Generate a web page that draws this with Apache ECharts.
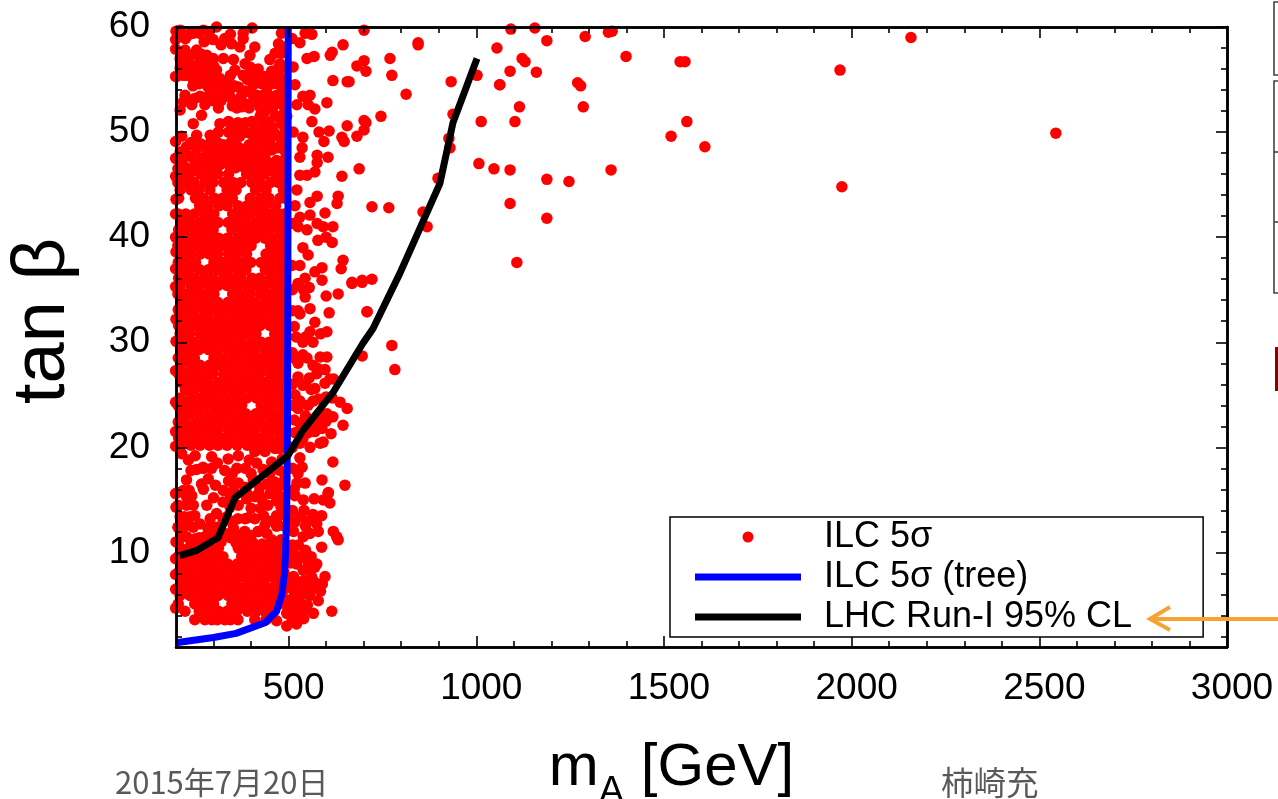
<!DOCTYPE html>
<html>
<head>
<meta charset="utf-8">
<title>tan beta vs mA</title>
<script src="https://cdn.jsdelivr.net/npm/echarts@6/dist/echarts.min.js"></script>
<style>
html, body { margin: 0; padding: 0; background: #fff; }
#chart { width: 1278px; height: 799px; }
</style>
</head>
<body>
<div id="chart"></div>
<script>
// tick values
const xMajorTicks = [500, 1000, 1500, 2000, 2500, 3000];
const xMinorTicks = [300, 400, 600, 700, 800, 900, 1100, 1200, 1300, 1400, 1600, 1700, 1800, 1900, 2100, 2200, 2300, 2400, 2600, 2700, 2800, 2900];
const yMajorTicks = [10, 20, 30, 40, 50, 60];
const yMinorTicks = [2, 4, 6, 8, 12, 14, 16, 18, 22, 24, 26, 28, 32, 34, 36, 38, 42, 44, 46, 48, 52, 54, 56, 58];

// ILC 5 sigma (tree) curve [mA, tanb]
const ilcTree = [[200, 1.4], [300, 1.9], [360, 2.3], [437, 3.3], [468, 4.4], [482, 6], [489, 8], [492, 10], [495, 14], [497, 22], [498, 35], [499, 60]];
// LHC Run-I curve [mA, tanb]
const lhcRun1 = [[210, 9.7], [256, 10.2], [312, 11.4], [357, 15.2], [498, 19.2], [538, 21.6], [618, 25.2], [698, 29.9], [725, 31.3], [797, 36.6], [903, 45.1], [938, 50.9], [1002, 57]];

// isolated points, far right of the cloud
const redFar = [[2544, 49.9], [2158, 59], [1969, 55.9], [1974, 44.8], [1519, 49.6], [1543, 56.7], [1556, 56.7], [1561, 51], [1609, 48.6], [1399, 57.2], [1362, 59.6], [1352, 59.5],
  [1290, 59.1], [1188, 58.7], [1156, 59.9], [1092, 59.8], [1055, 58], [1122, 57], [1130, 56.7], [1090, 55.8], [1062, 54.5], [1160, 55.7], [1270, 54.7], [1278, 54.4], [1285, 52.4],
  [1115, 52.4], [1103, 51], [1013, 51], [1007, 47], [1047, 46.5], [1090, 46.4], [1090, 43.2], [1188, 45.5], [1188, 41.8], [1247, 45.3], [1359, 46.4], [1108, 37.6],
  [775, 29.7], [783, 27.4], [722, 42.9], [767, 42.8], [813, 53.6], [845, 58.5], [770, 57], [775, 55.4], [746, 51.5], [701, 59.7], [696, 28.7],
  [858, 42.4], [869, 41], [898, 45.6], [927, 49.4], [930, 48.5], [933, 54.8], [938, 51.7], [1002, 55.4], [1063, 54.5], [709, 32.9], [688, 46.5], [701, 51.1], [706, 50.9], [701, 50.2],
  [701, 56.8], [706, 55.8], [682, 56.3], [845, 58.3], [722, 36], [696, 35.7], [669, 35.6]];

// scattered points right of the blue line
const redRight = [[509, 58.9], [512, 56.2], [530, 58.5], [544, 59.4], [562, 59.3], [549, 57], [568, 57.2], [616, 57.6], [611, 57.3], [645, 58.3], [656, 54.8], [618, 54.9], [661, 54.8],
  [517, 54.5], [538, 53.4], [557, 53.5], [522, 52.6], [552, 52.6], [570, 52.2], [602, 52.8], [512, 50], [608, 50.1], [581, 50], [594, 49.1], [562, 51], [656, 50.6], [682, 49.6], [642, 49.5], [648, 49.1],
  [538, 49.5], [536, 48.5], [530, 47.6], [576, 47.8], [576, 47.1], [605, 47.6], [570, 46.2], [549, 45.9], [530, 45.9], [642, 45.8], [522, 44.5], [517, 43], [632, 43.9], [629, 43.2], [576, 43.9], [557, 43.3], [597, 42.3],
  [530, 41.9], [557, 42.1], [576, 41.3], [592, 41], [525, 41], [549, 40.7], [512, 41.3], [578, 39.7], [600, 40], [538, 39], [552, 38.3], [618, 41], [616, 39.5], [645, 37.8], [640, 37], [589, 37.1], [570, 36.7], [589, 35.9],
  [696, 35.9], [669, 35.7], [544, 36.1], [525, 35.6], [509, 37.3], [632, 34.6], [600, 34.4], [544, 34.3], [709, 32.9], [608, 32.8], [557, 33.2], [530, 32.7], [570, 31.9], [557, 31], [602, 31], [538, 30],
  [538, 28.8], [584, 28.6], [602, 28.6], [549, 28.5], [597, 27.4], [578, 27.5], [597, 26.1], [570, 25.6], [538, 25.9], [525, 26.7], [517, 25], [552, 24], [616, 24.7], [656, 23.7], [637, 24.3], [618, 22.9],
  [602, 23.2], [645, 22.1], [589, 21.8], [613, 21.3], [592, 20.5], [557, 20], [517, 21.4], [530, 22.3], [552, 21.4], [584, 20.4], [538, 20.8], [565, 22], [530, 19], [536, 18.1], [525, 17.5], [544, 16.6],
  [618, 18.6], [650, 16.4], [589, 16.9], [522, 16.6], [605, 15.6], [592, 15], [610, 14.7], [568, 15.1], [517, 15.4], [539, 15], [541, 14], [517, 12.9], [513, 12], [588, 13.5], [575, 12.7], [579, 12], [557, 11.8],
  [539, 11.5], [588, 10.5], [526, 10.7], [530, 9.6], [606, 15.7], [619, 12], [628, 11.5], [632, 11.2], [575, 8.9], [570, 8.6], [597, 7.7], [615, 4.4], [566, 4.2], [579, 5.4], [566, 7.3], [548, 6.7], [557, 5.9], [521, 3.2], [495, 3],
  [513, 9.9], [521, 8.9], [539, 8.3], [513, 7.7], [539, 7.3], [561, 7.7], [513, 6.4], [539, 6.1], [557, 6.4], [535, 5.1], [513, 4.8], [495, 4.2], [468, 3.5], [521, 3.9], [545, 4.6], [590, 7],
  [520, 30.5], [545, 30.5], [565, 30], [585, 30.8], [510, 29], [525, 28], [565, 27.8], [620, 26.5], [575, 27], [555, 26.6], [600, 24.8], [580, 24.6], [565, 24.4], [590, 23], [575, 22.6], [545, 23], [525, 23.7], [515, 22.6], [610, 26.5], [560, 25.5], [530, 24.4], [545, 26], [600, 22.5], [530, 20.4], [510, 20], [570, 21.5], [510, 26], [510, 24], [515, 28.5], [515, 31.5], [525, 33], [540, 35],
  [505, 9], [505, 7], [505, 5.5], [505, 4], [525, 7], [525, 5.7], [550, 5], [550, 8.3], [550, 9.2], [570, 6.7], [578, 7], [525, 4.5], [540, 3.7], [510, 3.4], [585, 6.3], [560, 9.6], [545, 10.2], [510, 10.7],
  [510, 18], [515, 16], [510, 14], [505, 13], [530, 13.4], [550, 13], [565, 13.6], [545, 12.5], [510, 33], [510, 35], [555, 35.2], [530, 37.3]];

// left edge dots that poke out over the axis
const redEdge = [[199, 58.8], [199, 57.9], [199, 55.3], [199, 49.1], [199, 47.5], [199, 45.8], [200, 43.6], [199, 42.2], [199, 40], [200, 38.6], [199, 37], [199, 35.3], [200, 32.2], [200, 30.1],
  [199, 27.3], [199, 24.3], [199, 21.5], [199, 20.1], [199, 15.6], [200, 14.3], [200, 11], [199, 9.4], [199, 7.9], [199, 6.5], [199, 4.7]];

// top of the cloud, still readable dot by dot
const redUpper = [[211, 59.7], [246, 59.4], [273, 59.7], [308, 60], [299, 58.8], [330, 58.9], [348, 58.4], [379, 59.4], [370, 58.1], [410, 58.1], [397, 57.3], [481, 59.4], [473, 58.4], [464, 57.5], [450, 56.9], [481, 57.5], [477, 56.5], [490, 58.1], [403, 59.9], [379, 58.9],
  [224, 57.8], [255, 57.8], [282, 57.3], [211, 57], [233, 56.7], [264, 56.9], [286, 56.5], [211, 56.1], [237, 55.9], [202, 55.3], [220, 55.4], [246, 55], [273, 55.9], [291, 55.4], [273, 54.8], [299, 54.5], [317, 55.1], [308, 55.9], [326, 57], [353, 56.9], [335, 54.8], [357, 55.9], [384, 56.5], [397, 56.2], [419, 56], [419, 55.3], [379, 55.4], [366, 54.3], [375, 53.5], [406, 54.5], [428, 54.6], [450, 55.3], [477, 55.3], [459, 54.6], [481, 54.3], [442, 53.8], [468, 53.5], [415, 53.5], [481, 52.7], [450, 53], [406, 52.9], [384, 52.7], [357, 53], [362, 52.3], [330, 53.5], [304, 53.5], [286, 53.4], [264, 53.4], [224, 53.5], [220, 52.9], [242, 52.6], [211, 52.1], [277, 52.6], [313, 52.3], [268, 51.6], [246, 50.8], [255, 49.7], [317, 50.8], [313, 50], [291, 49.7], [353, 50.7], [375, 50.5], [402, 51], [424, 51.5], [437, 52], [464, 51.5], [477, 51.5], [481, 50.8], [424, 50.5], [442, 51], [397, 49.9], [370, 49.6], [348, 49.1], [326, 48.8], [424, 49.6], [468, 49.7], [450, 49.2], [415, 48.9], [481, 48.9], [215, 49.6], [228, 48.6], [211, 48.1], [255, 48.4], [282, 48.4], [202, 47.5], [237, 47.7], [264, 47.5], [299, 47.7], [330, 47.7], [357, 48.1], [384, 48.4], [406, 48.1], [384, 47.5], [362, 47.2], [437, 47.6], [468, 47.3], [450, 47], [424, 46.9], [402, 47.3], [224, 46.7], [282, 47], [317, 46.9], [251, 46.7], [344, 46.7], [379, 46.7], [481, 46.7],
  [240, 57.3], [268, 57.4], [299, 57], [245, 56.3], [280, 56.2], [225, 56.6], [258, 56], [300, 56.3], [222, 57.3], [228, 55.4], [256, 55.3], [282, 55.1], [300, 55.2], [262, 54.6], [285, 54.3], [245, 54.4], [320, 54.3], [345, 55.4], [345, 54.1], [390, 55], [405, 55.4], [395, 53.9], [355, 54.4], [435, 55.3], [440, 54.8], [465, 54.9], [490, 54.8], [470, 56], [455, 55.8], [490, 56.2], [432, 53.5], [458, 53.3], [490, 53.6], [470, 52.8], [405, 53.5], [385, 53.9], [345, 53.3], [320, 53], [295, 53], [250, 53.2], [235, 53], [275, 53.1], [350, 52.5], [375, 52.4], [395, 52.3], [420, 52.8], [432, 52.9], [458, 52.3], [490, 52.1], [425, 52.3], [445, 52.3],
  [340, 51], [365, 50.9], [385, 50.9], [410, 50.3], [385, 50], [360, 50], [340, 50], [455, 50.5], [490, 50.4], [495, 51.5], [460, 50], [435, 50], [405, 49.7], [440, 49.6], [490, 49.7],
  [240, 49], [265, 48.9], [290, 48.9], [310, 49], [300, 48.3], [320, 48.2], [340, 48.4], [365, 48.6], [395, 48.8], [430, 48.7], [455, 48.3], [490, 48.2], [470, 48.5], [435, 48.2], [415, 47.7], [345, 47.6], [280, 47.7], [250, 47.3], [215, 47.3], [310, 47.5], [490, 47.4], [372, 48], [342, 47], [358, 46.6], [300, 46.8], [265, 46.7], [205, 46.5], [455, 46.5], [400, 46.6], [440, 46.6],
  [200, 59.6], [235, 59.3], [262, 59.4], [288, 59.5], [320, 58.3], [345, 59.3], [225, 58.9], [275, 58.6]];

// solid part of the cloud, too dense to separate dots: rows of [tanb, mA...]
const redSolid = [
  [46.0, 214, 236, 265, 286, 311, 340, 388, 415, 436, 465, 483],
  [45.2, 205, 227, 248, 277, 298, 327, 352, 373, 402, 423, 452, 473, 488],
  [44.5, 211, 240, 261, 290, 336, 360, 412, 440, 486],
  [43.7, 207, 252, 273, 302, 324, 350, 398, 427, 448, 477, 491],
  [43.0, 263, 286, 315, 336, 365, 390, 411, 436, 465],
  [42.2, 206, 226, 249, 276, 301, 351, 374, 399, 426, 451, 474, 489],
  [41.4, 213, 237, 264, 289, 312, 339, 362, 387, 414, 439, 462, 484],
  [40.7, 207, 224, 251, 274, 299, 349, 376, 401, 424, 449, 476, 490],
  [39.9, 211, 239, 262, 287, 314, 337, 364, 389, 412, 437, 464, 486],
  [39.2, 205, 226, 250, 276, 300, 326, 351, 374, 400, 452, 475, 488],
  [38.4, 212, 238, 265, 288, 311, 340, 361, 388, 440, 463, 484],
  [37.6, 206, 225, 252, 301, 324, 350, 376, 399, 427, 450, 474, 491],
  [36.9, 214, 236, 263, 286, 313, 338, 365, 386, 438, 461, 487],
  [36.1, 207, 227, 249, 277, 298, 327, 349, 373, 402, 423, 452, 476, 489],
  [35.4, 211, 240, 262, 289, 312, 336, 363, 390, 415, 436, 464, 483],
  [34.6, 205, 224, 251, 274, 301, 351, 375, 398, 426, 449, 473, 490],
  [33.8, 213, 237, 264, 288, 311, 339, 361, 387, 412, 440, 465, 485],
  [33.1, 206, 226, 248, 276, 300, 324, 350, 376, 401, 425, 451, 475, 488],
  [32.3, 212, 239, 263, 286, 314, 338, 364, 389, 414, 437, 462, 484],
  [31.6, 207, 225, 252, 275, 299, 326, 352, 374, 399, 424, 450, 477, 491],
  [30.8, 211, 236, 265, 290, 312, 337, 362, 386, 413, 463, 486],
  [30.0, 205, 227, 250, 277, 302, 325, 349, 375, 402, 427, 448, 474, 489],
  [29.3, 214, 238, 261, 287, 313, 340, 365, 388, 411, 439, 464, 483],
  [28.5, 206, 224, 249, 301, 324, 351, 373, 400, 426, 452, 476, 490],
  [27.8, 212, 240, 264, 289, 311, 336, 363, 390, 415, 436, 461, 487],
  [27.0, 207, 226, 251, 274, 298, 327, 350, 376, 398, 423, 451, 473, 488],
  [26.2, 213, 237, 262, 286, 314, 338, 361, 387, 412, 438, 465, 484],
  [25.5, 225, 248, 276, 300, 325, 352, 374, 401, 425, 449, 475, 491],
  [24.7, 211, 239, 265, 288, 312, 339, 364, 389, 414, 440, 463, 485],
  [24.0, 205, 227, 250, 275, 301, 326, 349, 375, 427, 450, 477, 489],
  [23.2, 214, 236, 263, 290, 313, 337, 362, 386, 413, 437, 462, 486],
  [22.4, 206, 224, 252, 277, 299, 324, 351, 373, 399, 424, 452, 474, 490],
  [21.7, 212, 238, 261, 287, 311, 340, 365, 388, 411, 439, 464, 483],
  [20.9, 207, 226, 249, 274, 302, 327, 350, 376, 402, 426, 448, 476, 488],
  [20.2, 211, 240, 264, 289, 312, 336, 363, 390, 415, 436, 465, 484],
  // lower solid block
  [10.4, 213, 236, 262, 288, 313, 366, 388, 414, 440, 464, 487],
  [9.6, 206, 226, 250, 276, 300, 325, 375, 401, 426, 451, 476, 490],
  [8.9, 212, 238, 264, 286, 311, 338, 363, 387, 412, 438, 462, 484],
  [8.1, 207, 224, 248, 275, 301, 324, 350, 374, 399, 425, 449, 473, 488],
  [7.4, 214, 240, 265, 290, 314, 337, 361, 389, 415, 436, 465, 486],
  [6.6, 205, 227, 251, 277, 298, 326, 352, 376, 402, 427, 452, 477, 491],
  [5.9, 211, 237, 263, 287, 312, 339, 365, 386, 413, 440, 463, 483],
  [5.1, 206, 250, 274, 300, 349, 373, 400, 423, 450, 474, 489],
  [4.4, 224, 262, 288, 313, 336, 362, 390, 414, 437, 461],
  [3.6, 250, 277, 295, 310, 330, 345, 365, 410, 440]
];

// gappy band between the two solid blocks and the lower left
const redBand = [[215, 19.4], [233, 18.8], [251, 19.2], [273, 18], [295, 18], [295, 19.1], [339, 18.9], [362, 18], [366, 19.2], [410, 19.6], [437, 19.6], [464, 19.9], [477, 19.9], [437, 17.8], [468, 18.2], [483, 18.9],
  [228, 16.9], [268, 16.5], [286, 17], [272, 18.1], [326, 15.9], [366, 16.6], [432, 17.9], [450, 17.5], [477, 17.8], [423, 16.2], [463, 16.7], [388, 15.7],
  [220, 15.9], [242, 15.4], [206, 14.5], [228, 14.5], [246, 14.5], [282, 14.5], [273, 16], [353, 15.9], [384, 16.2], [406, 16.9], [442, 16.5], [459, 16.2], [481, 16.4], [410, 15.3], [388, 15.1], [366, 14.5], [344, 14.3], [428, 15.1], [450, 15.6], [468, 15.8], [481, 15.3],
  [308, 13.7], [291, 13.2], [335, 13.4], [384, 13.2], [433, 13.5], [437, 12.6], [468, 13.5], [473, 12.6], [442, 11.8], [419, 12], [393, 11.5], [370, 11.6], [353, 12.3], [264, 12.7], [246, 12.4], [237, 13.4], [211, 13.4], [220, 12.4], [206, 11], [228, 11.5], [251, 11.3], [277, 11.5], [299, 11.6], [330, 11.8], [468, 14.9], [472, 13.4], [392, 13.3], [383, 12], [419, 12], [406, 10.9], [468, 12.5],
  [300, 15.2], [325, 14.8], [345, 15.3], [205, 15.7], [250, 13.5], [222, 13.4], [235, 12.6], [205, 12.4], [215, 11.6], [240, 11], [262, 11.4], [285, 12.3], [310, 12.4], [320, 11], [345, 11.4], [360, 10.9], [385, 10.7], [400, 11.6], [430, 10.8], [455, 11.2], [480, 11.2], [455, 13], [410, 13.2], [400, 14.2], [425, 14.2], [445, 14.5], [490, 14], [490, 12.5], [365, 13.2], [345, 13], [325, 13.2], [300, 12.4], [263, 10.8], [287, 10.7], [235, 15.9], [228, 15.3], [305, 16.4], [340, 16.8], [350, 17.5], [400, 17.5], [385, 18], [415, 18.5], [455, 18.6], [490, 17], [420, 15.6], [480, 14.3], [395, 18.8], [330, 17.8], [310, 18.5], [255, 17.9], [240, 17.8]];

const redPoints = [].concat(redEdge, redUpper, redBand, redRight, redFar);
redSolid.forEach(function (row) {
  row.slice(1).forEach(function (mA) { redPoints.push([mA, row[0]]); });
});

const xRange = { min: 200, max: 3000 };
const yRange = { min: 1, max: 60 };
const frameLine = { show: true, onZero: false, lineStyle: { color: '#000', width: 2.5 } };

// one axis per side and tick length, major and minor ticks differ only in length
function tickAxis(range, position, ticks, length, withLabels) {
  return Object.assign({
    type: 'value',
    position: position,
    z: 6,
    axisLine: frameLine,
    splitLine: { show: false },
    axisTick: { show: true, inside: true, length: length, customValues: ticks, lineStyle: { color: '#000', width: 1.6 } },
    axisLabel: withLabels ? {
      show: true, customValues: ticks, color: '#000', fontSize: 37,
      fontFamily: 'Liberation Sans',
      formatter: function (v) { return String(v); },
      margin: position === 'bottom' ? 23 : 26,
      padding: position === 'bottom' ? [0, 0, 0, 10] : [8, 0, 0, 0]
    } : { show: false }
  }, range);
}

const myChart = echarts.init(document.getElementById('chart'));
const xBottom = tickAxis(xRange, 'bottom', xMajorTicks, 11, true);
xBottom.name = '{m|m}{a|A}{g| [GeV]}';
xBottom.nameLocation = 'middle';
xBottom.nameGap = 77;
xBottom.nameTextStyle = {
  fontFamily: 'Liberation Sans', color: '#000', padding: [0, 60, 0, 0],
  rich: {
    m: { fontSize: 60, fontFamily: 'Liberation Sans', color: '#000' },
    a: { fontSize: 38, fontFamily: 'Liberation Sans', color: '#000', verticalAlign: 'bottom', padding: [50, 0, 0, 0] },
    g: { fontSize: 60, fontFamily: 'Liberation Sans', color: '#000' }
  }
};
const yLeft = tickAxis(yRange, 'left', yMajorTicks, 11, true);
yLeft.name = 'tan β';
yLeft.nameLocation = 'middle';
yLeft.nameRotate = 90;
yLeft.nameGap = 95;
yLeft.nameTextStyle = { fontFamily: 'Liberation Sans', fontSize: 74, color: '#000', padding: [0, 0, 0, 32] };

const option = {
  animation: false,
  backgroundColor: '#fff',
  grid: { left: 176, top: 27, right: 51, bottom: 152, containLabel: false, outerBoundsMode: 'none' },
  xAxis: [
    xBottom,
    tickAxis(xRange, 'bottom', xMinorTicks, 6, false),
    tickAxis(xRange, 'top', xMajorTicks, 11, false),
    tickAxis(xRange, 'top', xMinorTicks, 6, false)
  ],
  yAxis: [
    yLeft,
    tickAxis(yRange, 'left', yMinorTicks, 6, false),
    tickAxis(yRange, 'right', yMajorTicks, 11, false),
    tickAxis(yRange, 'right', yMinorTicks, 6, false)
  ],
  legend: {
    orient: 'vertical',
    left: 670,
    top: 517,
    padding: [0, 71, 0, 25],
    itemGap: 0,
    itemWidth: 106,
    itemHeight: 11,
    backgroundColor: '#fff',
    borderColor: '#000',
    borderWidth: 1.5,
    borderRadius: 0,
    z: 8,
    selectedMode: false,
    textStyle: { fontFamily: 'Liberation Sans', fontSize: 36, color: '#000', padding: [9, 0, 0, 18], lineHeight: 31 },
    data: [
      { name: 'ILC 5σ', icon: 'circle' },
      { name: 'ILC 5σ (tree)', icon: 'path://M0 0H106V7H0Z' },
      { name: 'LHC Run-I 95% CL', icon: 'path://M0 0H106V7H0Z' }
    ]
  },
  series: [
    {
      name: 'ILC 5σ', type: 'scatter', data: redPoints, symbol: 'circle', symbolSize: 11.5, clip: false, z: 2,
      itemStyle: { color: '#ff0000', opacity: 1 }
    },
    {
      name: 'ILC 5σ (tree)', type: 'line', data: ilcTree, symbol: 'none', smooth: false, clip: false, z: 3,
      lineStyle: { color: '#0000ff', width: 7, cap: 'butt', join: 'round' }, itemStyle: { color: '#0000ff' }
    },
    {
      name: 'LHC Run-I 95% CL', type: 'line', data: lhcRun1, symbol: 'none', smooth: false, clip: false, z: 4,
      lineStyle: { color: '#000', width: 7, cap: 'butt', join: 'round' }, itemStyle: { color: '#000' }
    }
  ],
  // slide furniture around the plot: footer text, arrow, cut off boxes at the right edge
  graphic: [
    { type: 'text', left: 115, top: 767, z: 10, style: { text: '2015年7月20日', font: '31px "Noto Sans CJK JP"', fill: '#595959' } },
    { type: 'text', left: 941, top: 766, z: 10, style: { text: '柿崎充', font: '32.5px "Noto Sans CJK JP"', fill: '#595959' } },
    { type: 'polyline', z: 10, shape: { points: [[1278, 619], [1152, 619]] }, style: { stroke: '#f5a433', lineWidth: 4, fill: null } },
    { type: 'polyline', z: 10, shape: { points: [[1170, 607], [1150, 619], [1170, 630]] }, style: { stroke: '#f5a433', lineWidth: 4, fill: null } },
    { type: 'polyline', z: 10, shape: { points: [[1278, 2], [1274, 2], [1274, 75], [1278, 75]] }, style: { stroke: '#444', lineWidth: 1.6, fill: null } },
    { type: 'polyline', z: 10, shape: { points: [[1278, 81], [1274, 81], [1274, 293], [1278, 293]] }, style: { stroke: '#444', lineWidth: 1.6, fill: null } },
    { type: 'line', z: 10, shape: { x1: 1274, y1: 152, x2: 1278, y2: 152 }, style: { stroke: '#444', lineWidth: 1.6 } },
    { type: 'line', z: 10, shape: { x1: 1274, y1: 222, x2: 1278, y2: 222 }, style: { stroke: '#444', lineWidth: 1.6 } },
    { type: 'rect', z: 10, shape: { x: 1275, y: 347, width: 3, height: 44 }, style: { fill: '#8b0000' } }
  ]
};
myChart.setOption(option);
window.addEventListener('resize', function () {
  myChart.resize();
});
</script>
</body>
</html>
